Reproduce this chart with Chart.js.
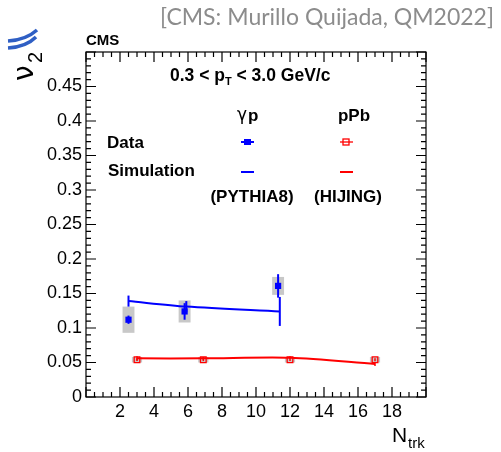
<!DOCTYPE html>
<html>
<head>
<meta charset="utf-8">
<script src="https://cdn.jsdelivr.net/npm/chart.js@4.4.1/dist/chart.umd.min.js"></script>
<style>
  body { margin: 0; background: #fff; }
  #wrap { width: 501px; height: 452px; position: relative; }
</style>
</head>
<body>
<div id="wrap"><canvas id="v2Chart"></canvas></div>
<script>
// gamma-p data (CMS)
const gpNtrk = [2.5, 5.8, 11.3];
const gpV2 = [0.112, 0.124, 0.161];
const gpStat = [0.006, 0.012, 0.017];
const gpSys = [0.019, 0.016, 0.013];

// gamma-p simulation (PYTHIA8)
const gpSimNtrk = [2.5, 5.9, 11.4];
const gpSimV2 = [0.139, 0.131, 0.124];
const gpSimErr = [0.008, 0.008, 0.021];

// pPb data
const ppbNtrk = [3.0, 6.9, 12.0, 17.0];
const ppbV2 = [0.054, 0.054, 0.054, 0.054];
const ppbStat = [0.002, 0.002, 0.002, 0.002];
const ppbSys = [0.004, 0.004, 0.004, 0.004];

// pPb simulation (HIJING)
const ppbSimNtrk = [3.0, 6.9, 12.0, 17.0];
const ppbSimV2 = [0.056, 0.056, 0.057, 0.048];
const ppbSimErr = [0.003, 0.002, 0.002, 0.003];

const xTickLabels = [2, 4, 6, 8, 10, 12, 14, 16, 18];
const yTickLabels = [0, 0.05, 0.1, 0.15, 0.2, 0.25, 0.3, 0.35, 0.4, 0.45];

const BLUE = '#0000ff';
const RED = '#ff0000';
const SYS_GREY = 'rgba(190,190,190,0.85)';

const pts = (xs, ys) => xs.map((x, i) => ({ x: x, y: ys[i] }));

// grey systematic boxes and vertical error bars
const errorPlugin = {
  id: 'errors',
  beforeDatasetsDraw(chart) {
    const { ctx, scales: { x, y } } = chart;
    ctx.save();
    ctx.fillStyle = SYS_GREY;
    gpNtrk.forEach((n, i) => {
      const l = x.getPixelForValue(n - 0.35), r = x.getPixelForValue(n + 0.35);
      const t = y.getPixelForValue(gpV2[i] + gpSys[i]), b = y.getPixelForValue(gpV2[i] - gpSys[i]);
      ctx.fillRect(l, t, r - l, b - t);
    });
    ppbNtrk.forEach((n, i) => {
      const l = x.getPixelForValue(n - 0.3), r = x.getPixelForValue(n + 0.3);
      const t = y.getPixelForValue(ppbV2[i] + ppbSys[i]), b = y.getPixelForValue(ppbV2[i] - ppbSys[i]);
      ctx.fillRect(l, t, r - l, b - t);
    });
    ctx.restore();
  },
  afterDatasetsDraw(chart) {
    const { ctx, scales: { x, y } } = chart;
    const bar = (xs, ys, es, color, w) => {
      ctx.strokeStyle = color;
      ctx.lineWidth = w;
      xs.forEach((n, i) => {
        const px = x.getPixelForValue(n);
        ctx.beginPath();
        ctx.moveTo(px, y.getPixelForValue(ys[i] + es[i]));
        ctx.lineTo(px, y.getPixelForValue(ys[i] - es[i]));
        ctx.stroke();
      });
    };
    ctx.save();
    bar(gpSimNtrk, gpSimV2, gpSimErr, BLUE, 2);
    bar(ppbSimNtrk, ppbSimV2, ppbSimErr, RED, 1.5);
    bar(gpNtrk, gpV2, gpStat, BLUE, 2);
    bar(ppbNtrk, ppbV2, ppbStat, RED, 1.5);
    ctx.restore();
  }
};

// ROOT style frame, inward ticks and all the labels
const framePlugin = {
  id: 'frame',
  afterDraw(chart) {
    const { ctx, chartArea: a, scales: { x, y } } = chart;
    ctx.save();
    ctx.strokeStyle = '#000';
    ctx.lineWidth = 1.2;
    ctx.strokeRect(a.left, a.top, a.right - a.left, a.bottom - a.top);
    ctx.beginPath();
    for (let v = 0; v <= 20.001; v += 0.5) {
      const px = x.getPixelForValue(v);
      const len = Math.abs(v / 2 - Math.round(v / 2)) < 1e-6 ? 10 : 5;
      ctx.moveTo(px, a.bottom); ctx.lineTo(px, a.bottom - len);
      ctx.moveTo(px, a.top); ctx.lineTo(px, a.top + len);
    }
    for (let k = 0; k <= 50; k++) {
      const py = y.getPixelForValue(k / 100);
      const len = k % 5 === 0 ? 10 : 5;
      ctx.moveTo(a.left, py); ctx.lineTo(a.left + len, py);
      ctx.moveTo(a.right, py); ctx.lineTo(a.right - len, py);
    }
    ctx.stroke();

    ctx.fillStyle = '#000';
    ctx.textBaseline = 'middle';
    ctx.textAlign = 'left';
    ctx.font = 'bold 15px "Liberation Sans"';
    ctx.fillText('CMS', 86, 41);

    // pT range
    let tx = 170;
    const seg = (s, f, dy) => { ctx.font = f; ctx.fillText(s, tx, 76 + (dy || 0)); tx += ctx.measureText(s).width; };
    seg('0.3 < p', 'bold 17.5px "Liberation Sans"');
    seg('T', 'bold 11px "Liberation Sans"', 6);
    seg(' < 3.0 GeV/c', 'bold 17.5px "Liberation Sans"');

    // legend
    ctx.font = 'bold 17px "Liberation Sans"';
    ctx.fillText('Data', 107, 143);
    ctx.fillText('Simulation', 108, 171);
    ctx.textAlign = 'center';
    ctx.fillText('pPb', 354, 116);
    ctx.fillText('(PYTHIA8)', 252, 197);
    ctx.fillText('(HIJING)', 348, 197);
    ctx.font = '17px "DejaVu Sans"';
    ctx.textAlign = 'right';
    ctx.fillText('\u03b3', 247, 116);
    ctx.font = 'bold 17px "Liberation Sans"';
    ctx.textAlign = 'left';
    ctx.fillText('p', 248, 116);

    ctx.fillStyle = BLUE;
    ctx.fillRect(244, 139, 7, 6);
    ctx.fillRect(241, 141, 13, 2);
    ctx.strokeStyle = RED;
    ctx.lineWidth = 1.3;
    ctx.strokeRect(343, 139, 6, 6);
    ctx.beginPath(); ctx.moveTo(340, 142); ctx.lineTo(353, 142); ctx.stroke();
    ctx.lineWidth = 2;
    ctx.strokeStyle = BLUE;
    ctx.beginPath(); ctx.moveTo(241, 172); ctx.lineTo(254, 172); ctx.stroke();
    ctx.strokeStyle = RED;
    ctx.beginPath(); ctx.moveTo(340, 172); ctx.lineTo(353, 172); ctx.stroke();

    // axis titles
    ctx.fillStyle = '#000';
    ctx.textAlign = 'left';
    ctx.textBaseline = 'alphabetic';
    ctx.font = '21px "Liberation Sans"';
    ctx.fillText('N', 392, 442);
    ctx.font = '15px "Liberation Sans"';
    ctx.fillText('trk', 408, 448);

    ctx.save();
    ctx.translate(33, 81);
    ctx.rotate(-Math.PI / 2);
    ctx.font = '28px "DejaVu Sans"';
    ctx.fillText('\u03bd', 0, 0);
    ctx.font = '20px "Liberation Sans"';
    ctx.fillText('2', 18, 9);
    ctx.restore();

    // header
    ctx.fillStyle = '#8c8c8c';
    ctx.font = '23px Lato';
    ctx.textAlign = 'right';
    ctx.textBaseline = 'middle';
    ctx.fillText('[CMS: Murillo Quijada, QM2022]', 494, 18);

    // logo remnant
    ctx.strokeStyle = '#2f5fc4';
    ctx.lineWidth = 3.5;
    ctx.beginPath(); ctx.moveTo(8, 41); ctx.quadraticCurveTo(26, 40, 37, 30); ctx.stroke();
    ctx.beginPath(); ctx.moveTo(8, 48); ctx.quadraticCurveTo(26, 47, 36, 37); ctx.stroke();
    ctx.restore();
  }
};

const ctx = document.getElementById('v2Chart').getContext('2d');
new Chart(ctx, {
  type: 'scatter',
  data: {
    datasets: [
      {
        label: 'gamma p data',
        data: pts(gpNtrk, gpV2),
        pointStyle: 'rect',
        pointRadius: 4.4,
        backgroundColor: BLUE,
        borderColor: BLUE,
        borderWidth: 0
      },
      {
        label: 'pPb data',
        data: pts(ppbNtrk, ppbV2),
        pointStyle: 'rect',
        pointRadius: 4,
        backgroundColor: 'rgba(255,255,255,0)',
        borderColor: RED,
        borderWidth: 1.3
      },
      {
        label: 'gamma p PYTHIA8',
        data: pts(gpSimNtrk, gpSimV2),
        showLine: true,
        borderColor: BLUE,
        borderWidth: 2,
        pointRadius: 0,
        tension: 0.3
      },
      {
        label: 'pPb HIJING',
        data: pts(ppbSimNtrk, ppbSimV2),
        showLine: true,
        borderColor: RED,
        borderWidth: 2,
        pointRadius: 0,
        tension: 0.3
      }
    ]
  },
  options: {
    responsive: true,
    maintainAspectRatio: false,
    animation: false,
    layout: { padding: { top: 52, right: 75, left: 0, bottom: 0 } },
    plugins: { legend: { display: false }, tooltip: { enabled: false } },
    scales: {
      x: {
        type: 'linear',
        min: 0,
        max: 20,
        afterFit(scale) { scale.height = 55; },
        afterBuildTicks(scale) { scale.ticks = xTickLabels.map(v => ({ value: v })); },
        grid: { display: false, drawTicks: false },
        border: { display: false },
        ticks: {
          padding: 4,
          color: '#000',
          font: { family: '"Liberation Sans"', size: 18 },
          callback: v => String(v)
        }
      },
      y: {
        type: 'linear',
        min: 0,
        max: 0.5,
        afterFit(scale) { scale.width = 86; },
        afterBuildTicks(scale) { scale.ticks = yTickLabels.map(v => ({ value: v })); },
        grid: { display: false, drawTicks: false },
        border: { display: false },
        ticks: {
          padding: 4,
          color: '#000',
          font: { family: '"Liberation Sans"', size: 18 },
          callback: v => String(v)
        }
      }
    }
  },
  plugins: [errorPlugin, framePlugin]
});
</script>
</body>
</html>
